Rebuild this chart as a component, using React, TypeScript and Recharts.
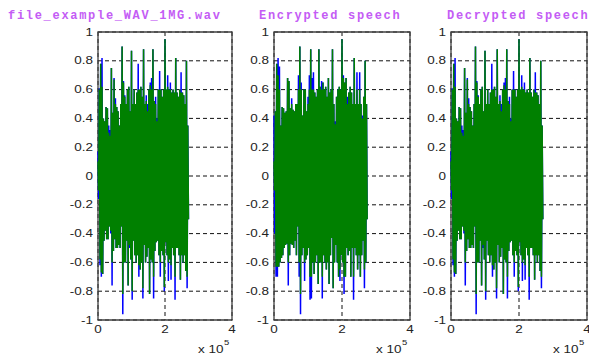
import { CartesianGrid, Line, LineChart, ReferenceArea, XAxis, YAxis } from "recharts";

// samples per bin (each bin = one positive and one negative peak)
const BIN = 4000;
const X_TICKS = [0, 200000, 400000];
const Y_TICKS = [-1, -0.8, -0.6, -0.4, -0.2, 0, 0.2, 0.4, 0.6, 0.8, 1];
const TITLES = ["file_example_WAV_1MG.wav", "Encrypted speech", "Decrypted speech"];

// original wav: per-bin peaks
const origGreenTop = [
  0.1, 0.6, 0.78, 0.62, 0.4, 0.38, 0.48, 0.47, 0.3, 0.28,
  0.75, 0.44, 0.67, 0.5, 0.48, 0.45, 0.35, 0.5, 0.9, 0.65,
  0.55, 0.5, 0.6, 0.62, 0.45, 0.87, 0.5, 0.6, 0.5, 0.58,
  0.6, 0.6, 0.62, 0.55, 0.88, 0.5, 0.52, 0.45, 0.6, 0.63,
  0.6, 0.88, 0.52, 0.5, 0.38, 0.6, 0.6, 0.6, 0.55, 0.6,
  0.95, 0.6, 0.62, 0.6, 0.6, 0.58, 0.6, 0.58, 0.82, 0.58,
  0.55, 0.6, 0.58, 0.58, 0.56, 0.5, 0.8, 0.35,
];
const origGreenBot = [
  -0.1, -0.58, -0.67, -0.68, -0.45, -0.38, -0.44, -0.44, -0.35, -0.38,
  -0.6, -0.52, -0.44, -0.5, -0.5, -0.48, -0.5, -0.35, -0.82, -0.6,
  -0.6, -0.45, -0.76, -0.48, -0.58, -0.8, -0.45, -0.55, -0.6, -0.55,
  -0.62, -0.65, -0.6, -0.78, -0.48, -0.6, -0.56, -0.5, -0.82, -0.58,
  -0.6, -0.7, -0.52, -0.46, -0.45, -0.55, -0.6, -0.52, -0.55, -0.77,
  -0.46, -0.55, -0.6, -0.58, -0.62, -0.5, -0.55, -0.7, -0.5, -0.5,
  -0.55, -0.72, -0.55, -0.6, -0.55, -0.66, -0.7, -0.3,
];
const origBlueTop = [
  0.17, 0.61, 0.78, 0.82, 0.4, 0.38, 0.48, 0.47, 0.35, 0.32,
  0.75, 0.44, 0.68, 0.54, 0.48, 0.45, 0.35, 0.5, 0.9, 0.66,
  0.56, 0.5, 0.6, 0.62, 0.45, 0.87, 0.5, 0.6, 0.5, 0.58,
  0.78, 0.6, 0.62, 0.55, 0.88, 0.5, 0.56, 0.5, 0.6, 0.65,
  0.68, 0.88, 0.52, 0.55, 0.4, 0.6, 0.73, 0.6, 0.55, 0.6,
  0.95, 0.6, 0.7, 0.6, 0.65, 0.58, 0.6, 0.58, 0.82, 0.58,
  0.55, 0.6, 0.72, 0.58, 0.56, 0.5, 0.8, 0.35,
];
const origBlueBot = [
  -0.16, -0.62, -0.7, -0.68, -0.45, -0.38, -0.44, -0.44, -0.35, -0.4,
  -0.76, -0.52, -0.44, -0.5, -0.5, -0.48, -0.5, -0.35, -0.96, -0.6,
  -0.6, -0.45, -0.76, -0.5, -0.58, -0.86, -0.45, -0.55, -0.6, -0.55,
  -0.7, -0.65, -0.6, -0.85, -0.48, -0.6, -0.56, -0.5, -0.82, -0.58,
  -0.6, -0.85, -0.52, -0.46, -0.45, -0.55, -0.7, -0.52, -0.55, -0.8,
  -0.46, -0.55, -0.73, -0.58, -0.72, -0.5, -0.55, -0.86, -0.5, -0.5,
  -0.55, -0.72, -0.55, -0.6, -0.55, -0.66, -0.78, -0.3,
];

// encrypted speech
const encGreenTop = [
  0.1, 0.45, 0.78, 0.7, 0.6, 0.35, 0.48, 0.47, 0.44, 0.45,
  0.68, 0.66, 0.47, 0.5, 0.46, 0.45, 0.5, 0.5, 0.6, 0.9,
  0.6, 0.42, 0.6, 0.6, 0.45, 0.5, 0.6, 0.88, 0.6, 0.6,
  0.58, 0.55, 0.6, 0.88, 0.62, 0.6, 0.65, 0.6, 0.62, 0.55,
  0.68, 0.58, 0.6, 0.88, 0.5, 0.36, 0.55, 0.6, 0.62, 0.6,
  0.95, 0.68, 0.65, 0.68, 0.5, 0.58, 0.62, 0.58, 0.5, 0.82,
  0.5, 0.6, 0.5, 0.6, 0.5, 0.4, 0.55, 0.8, 0.5,
];
const encGreenBot = [
  -0.1, -0.63, -0.63, -0.63, -0.6, -0.57, -0.55, -0.5, -0.48, -0.47,
  -0.6, -0.55, -0.47, -0.48, -0.5, -0.45, -0.55, -0.35, -0.6, -0.82,
  -0.55, -0.5, -0.6, -0.58, -0.55, -0.5, -0.7, -0.7, -0.6, -0.68,
  -0.6, -0.55, -0.75, -0.6, -0.6, -0.7, -0.55, -0.6, -0.65, -0.6,
  -0.75, -0.55, -0.43, -0.78, -0.6, -0.48, -0.6, -0.7, -0.65, -0.55,
  -0.6, -0.7, -0.7, -0.5, -0.55, -0.52, -0.7, -0.5, -0.7, -0.5,
  -0.55, -0.65, -0.55, -0.7, -0.55, -0.45, -0.65, -0.6, -0.3,
];
const encBlueTop = [
  0.42, 0.45, 0.78, 0.82, 0.76, 0.35, 0.48, 0.47, 0.44, 0.45,
  0.68, 0.66, 0.47, 0.54, 0.46, 0.45, 0.5, 0.5, 0.7, 0.9,
  0.65, 0.42, 0.6, 0.6, 0.45, 0.55, 0.7, 0.88, 0.68, 0.72,
  0.58, 0.55, 0.6, 0.88, 0.62, 0.66, 0.65, 0.6, 0.62, 0.55,
  0.68, 0.58, 0.6, 0.88, 0.5, 0.38, 0.55, 0.6, 0.62, 0.6,
  0.95, 0.7, 0.65, 0.68, 0.55, 0.58, 0.62, 0.58, 0.5, 0.82,
  0.5, 0.72, 0.5, 0.72, 0.5, 0.42, 0.55, 0.8, 0.5,
];
const encBlueBot = [
  -0.4, -0.7, -0.7, -0.63, -0.6, -0.57, -0.55, -0.5, -0.48, -0.47,
  -0.76, -0.55, -0.47, -0.48, -0.5, -0.45, -0.55, -0.35, -0.7, -0.96,
  -0.55, -0.5, -0.73, -0.58, -0.55, -0.5, -0.86, -0.85, -0.6, -0.68,
  -0.6, -0.55, -0.75, -0.6, -0.6, -0.85, -0.55, -0.6, -0.65, -0.6,
  -0.75, -0.55, -0.43, -0.78, -0.6, -0.48, -0.6, -0.7, -0.73, -0.55,
  -0.6, -0.82, -0.7, -0.5, -0.55, -0.52, -0.7, -0.5, -0.86, -0.5,
  -0.55, -0.65, -0.55, -0.7, -0.55, -0.45, -0.78, -0.6, -0.3,
];

// decrypted speech comes back identical to the original
const decGreenTop = origGreenTop;
const decGreenBot = origGreenBot;
const decBlueTop = origBlueTop;
const decBlueBot = origBlueBot;

type Pt = { x: number; g: number; b: number };

function zigzag(gTop: number[], gBot: number[], bTop: number[], bBot: number[]) {
  const out: Pt[] = [];
  gTop.forEach((v, i) => {
    out.push({ x: i * BIN, g: v, b: bTop[i] });
    out.push({ x: i * BIN + BIN / 2, g: gBot[i], b: bBot[i] });
  });
  return out;
}

const panels = [
  { data: zigzag(origGreenTop, origGreenBot, origBlueTop, origBlueBot), plotLeft: 98, plotW: 134, titleX: 8 },
  { data: zigzag(encGreenTop, encGreenBot, encBlueTop, encBlueBot), plotLeft: 274, plotW: 136, titleX: 259 },
  { data: zigzag(decGreenTop, decGreenBot, decBlueTop, decBlueBot), plotLeft: 451, plotW: 136, titleX: 447 },
];

const FONT = "'Liberation Sans', Arial, sans-serif";
const SX = 1.35;

const YTick = ({ x, y, payload }: any) => (
  <text
    transform={`translate(${x},${y + 3.5}) scale(${SX},1)`}
    textAnchor="end"
    fontSize={10}
    fontFamily={FONT}
    fill="#222"
  >
    {String(payload.value)}
  </text>
);

const XTick = ({ x, y, payload }: any) => (
  <text
    transform={`translate(${x},${y + 13}) scale(${SX},1)`}
    textAnchor="middle"
    fontSize={10}
    fontFamily={FONT}
    fill="#222"
  >
    {String(payload.value / 100000)}
  </text>
);

function Panel({ data, plotLeft, plotW }: { data: Pt[]; plotLeft: number; plotW: number }) {
  const width = 60 + plotW + 4;
  return (
    <div style={{ position: "absolute", left: plotLeft - 60, top: 0 }}>
      <LineChart width={width} height={358} data={data} margin={{ top: 32, right: 4, left: 10, bottom: 18 }}>
        <CartesianGrid stroke="#111" strokeDasharray="4 3" />
        <XAxis
          dataKey="x"
          type="number"
          domain={[0, 400000]}
          ticks={X_TICKS}
          height={20}
          axisLine={false}
          tickLine={false}
          tickSize={0}
          tickMargin={0}
          tick={<XTick />}
          interval={0}
        />
        <YAxis
          type="number"
          domain={[-1, 1]}
          ticks={Y_TICKS}
          width={50}
          axisLine={false}
          tickLine={false}
          tickSize={0}
          tickMargin={5}
          tick={<YTick />}
          interval={0}
        />
        <Line dataKey="b" type="linear" stroke="#0000ff" strokeWidth={1.5} dot={false} isAnimationActive={false} />
        <Line dataKey="g" type="linear" stroke="#008000" strokeWidth={1.5} dot={false} isAnimationActive={false} />
        <ReferenceArea x1={0} x2={400000} y1={-1} y2={1} fill="none" stroke="#404040" strokeWidth={1.3} />
      </LineChart>
    </div>
  );
}

export default function App() {
  return (
    <div style={{ position: "absolute", left: 0, top: 0, width: 589, height: 358, overflow: "hidden", background: "#fff" }}>
      {panels.map((p, i) => (
        <Panel key={i} data={p.data} plotLeft={p.plotLeft} plotW={p.plotW} />
      ))}
      <svg width={589} height={358} style={{ position: "absolute", left: 0, top: 0, pointerEvents: "none" }}>
        {panels.map((p, i) => (
          <g key={i}>
            <text
              x={p.titleX}
              y={18.5}
              fontSize={12}
              fontWeight="bold"
              fontFamily="'Liberation Mono', 'DejaVu Sans Mono', monospace"
              letterSpacing={1.7}
              fill="#c45cf5"
            >
              {TITLES[i]}
            </text>
            <text
              transform={`translate(${p.plotLeft + p.plotW - 34},353) scale(${SX},1)`}
              fontSize={10}
              fontFamily={FONT}
              fill="#222"
            >
              x 10
            </text>
            <text
              transform={`translate(${p.plotLeft + p.plotW - 8},345) scale(${SX},1)`}
              fontSize={7}
              fontFamily={FONT}
              fill="#222"
            >
              5
            </text>
          </g>
        ))}
      </svg>
    </div>
  );
}
